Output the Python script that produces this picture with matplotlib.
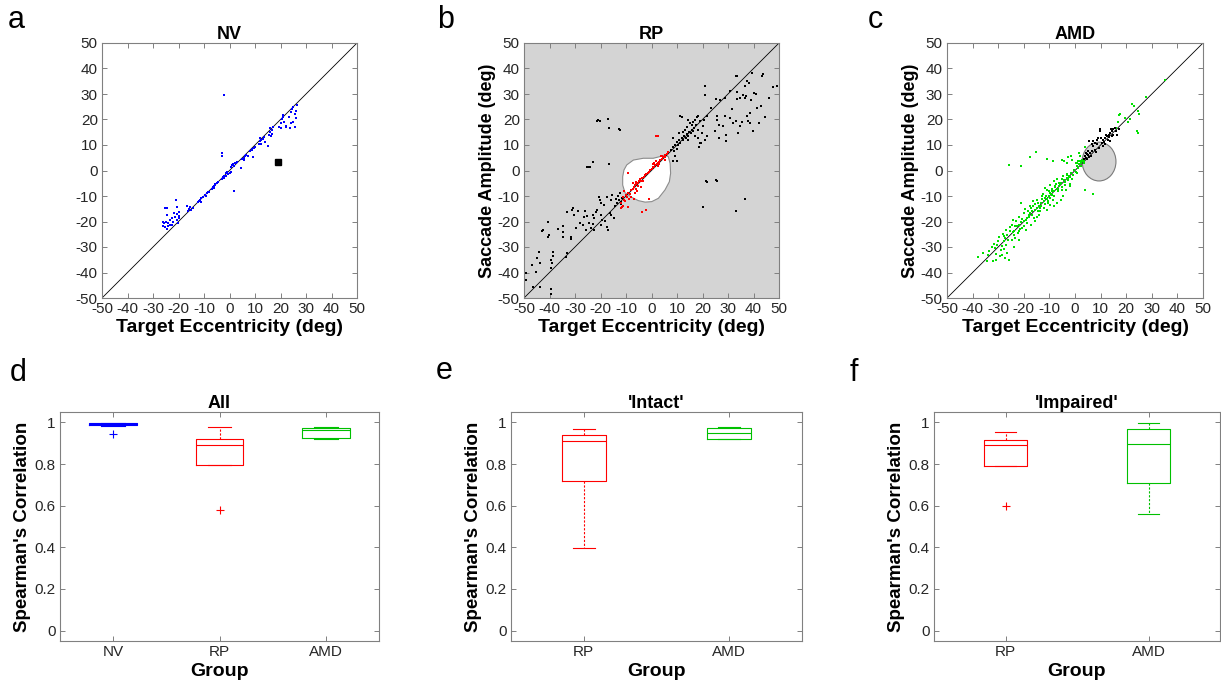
import numpy as np
import matplotlib.pyplot as plt
from matplotlib.patches import Ellipse

plt.rcParams['font.family'] = ['Liberation Sans', 'DejaVu Sans']
plt.rcParams['axes.unicode_minus'] = False

# ---- scatter data (target eccentricity, saccade amplitude), deg ----
nv_pts = [
    (-25.3, -14.8), (-24.7, -14.8), (-21.0, -11.6), (-20.4, -14.4), (-19.7, -16.1), (-24.7, -17.4),
    (-24.9, -20.1), (-26.0, -21.8), (-25.3, -22.0), (-24.0, -20.5), (-23.4, -19.4), (-22.7, -18.8),
    (-22.0, -20.1), (-21.4, -18.1), (-20.7, -19.4), (-20.1, -20.7), (-21.8, -16.8), (-22.4, -21.4),
    (-25.7, -20.7), (-24.4, -23.1), (-19.7, -17.8), (-23.4, -21.4), (-25.9, -20.3), (-24.2, -21.9),
    (-20.4, -17.2), (-19.9, -18.8),
    (-16.8, -14.0), (-15.8, -15.0), (-15.2, -15.5), (-14.5, -14.6), (-16.2, -15.8), (-15.5, -14.2),
    (-12.2, -12.5), (-11.5, -11.5), (-11.0, -10.8), (-10.5, -10.5), (-12.0, -11.8), (-11.2, -12.2),
    (-9.5, -9.8), (-9.0, -9.0), (-8.5, -8.5), (-8.0, -8.3), (-9.2, -10.0),
    (-7.0, -7.2), (-6.5, -6.5), (-6.0, -6.0), (-5.5, -5.2), (-5.0, -5.0), (-4.5, -4.5), (-6.2, -7.0),
    (-5.8, -5.5),
    (-3.0, -3.5), (-2.5, -2.5), (-2.0, -2.0), (-1.5, -1.0), (-1.0, -0.5), (-0.5, -1.5), (0.0, -0.8),
    (-2.2, -3.0), (-1.2, -2.0), (0.5, -0.5),
    (-3.1, 7.0), (-3.1, 5.7), (1.7, -7.9), (-2.2, 29.7),
    (0.5, 1.5), (1.0, 2.0), (1.5, 2.5), (2.0, 2.8), (2.5, 3.0), (3.0, 3.5), (1.8, 1.8), (4.7, 0.9),
    (4.8, 4.5), (5.5, 5.0), (6.0, 5.5), (6.5, 6.0), (7.2, 5.8), (5.8, 4.2), (9.3, 5.4),
    (8.2, 7.8), (8.8, 8.5), (9.5, 9.0), (10.0, 9.2), (9.0, 8.0),
    (11.5, 10.5), (12.0, 11.5), (12.5, 12.0), (13.0, 12.5), (13.5, 13.0), (12.2, 10.2), (13.8, 11.0),
    (11.8, 12.8), (15.2, 9.6),
    (15.5, 14.0), (16.0, 15.0), (16.5, 16.0), (17.0, 17.0), (16.2, 13.5), (15.8, 16.5), (16.8, 14.5),
    (19.5, 17.0), (20.0, 18.5), (20.5, 20.0), (21.0, 21.0), (21.5, 19.0), (22.0, 17.5), (20.0, 16.5),
    (21.0, 21.8), (22.3, 17.0),
    (23.5, 21.0), (24.0, 23.0), (24.5, 24.0), (25.0, 25.0), (25.5, 22.0), (26.0, 20.5), (25.0, 19.0),
    (24.2, 18.5), (26.0, 23.5), (25.5, 17.0), (23.8, 16.5), (26.3, 25.5),
]
nv_square = (19.2, 3.3)

rp_black = [
    # lower left
    (-25.4, 1.2), (-24.9, 1.2), (-24.2, 1.5), (-23.1, 3.5), (-16.7, 2.5),
    (-21.4, 19.6), (-20.8, 19.7), (-20.3, 19.6), (-17.0, 20.3), (-16.5, 16.5), (-12.8, 16.3), (-12.3, 15.8),
    (-40.6, -20.2), (-42.4, -23.3), (-43.1, -23.7), (-40.2, -25.3), (-40.6, -26.0), (-34.7, -21.8),
    (-34.7, -24.0), (-33.0, -16.4), (-30.7, -14.8), (-31.0, -15.5), (-30.4, -17.5), (-26.0, -15.8),
    (-26.5, -18.1), (-25.2, -17.8), (-24.5, -20.5), (-25.8, -23.3), (-23.9, -22.7), (-22.5, -23.3),
    (-22.5, -18.8), (-21.9, -16.1), (-21.2, -15.5), (-20.6, -10.3), (-20.2, -11.6), (-19.7, -12.9),
    (-19.9, -17.5), (-19.3, -19.4), (-19.7, -21.4), (-17.3, -22.0), (-17.1, -23.3), (-17.3, -10.3),
    (-16.0, -11.6), (-15.4, -9.6), (-16.3, -16.5), (-15.8, -17.5), (-14.7, -18.8), (-13.4, -12.9),
    (-12.7, -11.6), (-12.1, -12.2), (-11.4, -10.9), (-13.2, -10.1), (-12.5, -8.8), (-14.5, -14.0),
    (-11.9, -13.3), (-18.4, -19.9), (-23.0, -17.3), (-28.9, -16.0),
    (-46.7, -37.0), (-44.8, -34.4), (-44.1, -31.8), (-43.7, -36.4), (-45.4, -39.7), (-39.5, -35.1),
    (-39.2, -36.4), (-38.5, -31.8), (-38.5, -33.5), (-39.3, -38.4), (-33.7, -33.8), (-33.0, -32.5),
    (-31.7, -26.0), (-31.4, -27.0), (-34.6, -26.2), (-49.3, -40.0), (-49.3, -43.0), (-43.7, -45.6),
    (-39.3, -46.6), (-39.5, -48.4), (-46.3, -45.6), (-36.5, -23.0), (-28.0, -20.5), (-27.0, -21.5),
    (-18.6, -13.7), (-14.1, -11.2), (-22.9, -21.0), (-29.5, -22.6),
    # upper right
    (33.1, 37.2), (33.7, 36.9), (39.3, 38.2), (43.9, 38.0), (43.2, 36.9), (38.2, 34.3), (37.3, 35.0),
    (47.5, 32.7), (49.1, 33.3), (45.9, 28.4), (30.8, 31.3), (26.9, 27.5), (25.3, 28.0), (28.8, 28.4),
    (33.4, 30.7), (33.4, 28.0), (34.7, 28.4), (36.0, 29.7), (37.1, 29.3), (36.7, 28.4), (40.2, 30.4),
    (41.0, 30.1), (41.2, 24.5), (42.8, 25.4), (38.6, 22.5), (37.6, 21.5), (38.0, 19.3), (38.6, 18.6),
    (39.7, 15.4), (34.1, 14.7), (34.7, 17.6), (35.4, 18.9), (32.1, 18.6), (33.1, 19.3), (30.8, 20.6),
    (27.9, 17.6), (29.2, 14.1), (29.2, 11.4), (26.6, 12.7), (24.9, 15.4), (25.8, 19.7), (26.6, 18.0),
    (28.8, 21.5), (25.8, 21.5), (21.6, 21.2), (20.6, 19.7), (20.1, 17.3), (19.0, 19.3), (21.0, 33.0),
    (21.0, 29.7), (21.9, 13.4), (21.0, 12.1), (19.3, 10.8), (18.8, 9.2), (21.9, -4.6), (21.4, -4.3),
    (25.3, -3.9), (25.8, -4.2), (20.2, -14.3), (33.3, -16.0), (36.5, -11.2),
    (31.5, 24.2), (39.0, 27.5), (44.6, 20.8), (36.5, 33.0), (23.4, 24.5), (42.3, 18.7),
    # along the diagonal
    (11.2, 21.5), (11.8, 21.0), (14.4, 19.7), (15.1, 18.6), (15.8, 18.0), (16.4, 18.9), (17.1, 19.9),
    (17.7, 21.0), (18.4, 21.5), (17.5, 18.0), (16.7, 16.7), (15.8, 15.8), (14.8, 15.0), (13.8, 14.4),
    (12.7, 13.4), (11.8, 12.7), (10.9, 11.8), (9.9, 11.0), (9.2, 10.1), (8.3, 9.2), (7.5, 8.2),
    (10.5, 10.1), (11.2, 10.8), (12.5, 11.8), (13.5, 12.7), (14.4, 13.7), (15.4, 14.7), (16.1, 15.4),
    (13.1, 16.0), (12.2, 15.0), (14.1, 17.1), (9.9, 8.4), (8.8, 7.5), (9.2, 5.6), (10.1, 3.6), (8.6, 3.6),
    (19.0, 10.8), (18.4, 12.7), (19.7, 14.7), (10.9, 14.7), (8.3, 12.7), (18.4, 15.8), (14.4, 12.1),
    (17.1, 13.7),
]
rp_red = [
    (-11.2, -10.5), (-10.6, -11.4), (-10.1, -9.6), (-9.6, -10.2), (-9.2, -8.7), (-10.3, -12.1),
    (-11.0, -13.8), (-8.9, -11.2), (-8.4, -9.1), (-7.9, -7.8), (-7.4, -7.3), (-6.9, -6.6), (-6.6, -5.8),
    (-6.1, -5.4), (-5.4, -4.9), (-4.9, -4.3), (-6.0, -7.1), (-5.1, -6.2), (-4.6, -3.4), (-4.1, -4.0),
    (-3.6, -2.9), (-3.1, -2.6), (-2.4, -1.9), (-2.0, -1.3), (-1.4, -1.1), (-0.9, -0.4), (-0.4, 0.2),
    (0.1, 0.6), (0.6, 1.2), (1.1, 1.4), (1.4, 2.1), (2.1, 2.4), (2.6, 3.1), (3.1, 3.3), (3.4, 4.1),
    (4.1, 4.4), (4.6, 5.2), (5.1, 5.4), (5.4, 6.1), (5.9, 6.6), (6.4, 7.2), (1.9, 3.6), (2.9, 2.4),
    (4.2, 5.6), (1.0, 2.9), (-7.1, -4.8), (-4.2, -6.3), (-3.2, -4.1), (-6.2, -4.4), (-8.1, -10.3),
    (-12.1, -12.6), (-5.6, -8.2), (-9.4, -14.2), (-6.4, -8.7), (0.4, 2.4), (2.4, 1.6), (5.2, 4.1),
    (3.6, 5.7), (1.9, 13.7), (2.7, 13.4), (-9.2, -1.1), (-3.6, -16.1), (-2.3, -15.5), (-1.0, -11.2),
    (-7.0, -11.2), (-12.1, -14.8), (-11.4, -14.2), (-10.8, -8.2),
]
# 'intact' region outline for RP
rp_blob_x = [-9.7, -7.1, -3.2, 0.7, 3.5, 5.3, 6.6, 7.3, 7.5, 7.0, 5.3, 2.7, 0.1, -2.5, -5.2, -7.8,
             -10.4, -11.3, -11.3, -10.8]
rp_blob_y = [2.2, 4.1, 4.8, 4.8, 5.5, 6.1, 5.4, 2.8, -1.1, -4.4, -7.6, -10.9, -12.2, -12.4, -11.8,
             -10.5, -8.7, -5.7, -2.4, 0.2]

amd_green = [
    (-37.9, -34.0), (-34.3, -35.6), (-33.4, -31.7), (-32.1, -35.6), (-30.7, -32.7), (-29.1, -31.0),
    (-28.5, -33.0), (-27.2, -34.3), (-25.9, -35.0), (-26.5, -32.3), (-31.7, -28.7), (-28.7, -29.7),
    (-27.8, -27.8), (-27.2, -26.5), (-26.5, -25.2), (-25.2, -23.8), (-25.5, -22.2), (-24.6, -27.1),
    (-23.3, -26.5), (-23.9, -25.2), (-22.6, -21.9), (-22.0, -21.2), (-21.0, -20.3), (-20.0, -21.6),
    (-19.3, -19.3), (-18.7, -18.6), (-18.0, -17.3), (-17.4, -16.7), (-16.7, -16.0), (-15.8, -15.4),
    (-15.0, -14.7), (-14.1, -13.8), (-13.2, -12.8), (-12.2, -12.1), (-11.1, -11.2), (-10.2, -10.1),
    (-9.3, -9.1), (-8.3, -8.2), (-7.2, -7.3), (-6.3, -6.2), (-5.6, -4.9), (-4.3, -3.9), (-3.3, -3.0),
    (-2.4, -2.1), (-1.5, -1.0), (-0.4, 0.3), (0.6, 1.6), (1.5, 2.6), (2.8, 3.6), (-20.6, -22.5),
    (-22.0, -23.8), (-24.2, -19.3), (-21.0, -12.8), (-20.0, -16.7), (-17.6, -13.8), (-16.3, -12.1),
    (-14.8, -11.5), (-12.8, -10.1), (-10.9, -7.5), (-9.6, -5.6), (-8.3, -4.3), (-7.2, -3.4),
    (-5.4, -11.5), (-4.6, -10.1), (-3.7, -7.5), (-16.1, -18.6), (-15.8, -19.9), (-14.1, -17.3),
    (-13.5, -16.0), (-12.2, -14.7), (-10.9, -15.4), (-9.6, -13.4), (-8.5, -11.5), (-8.3, -14.1),
    (-7.0, -12.8), (-11.5, -9.9), (-10.2, -8.2), (-26.8, -23.2), (-23.5, -21.6), (-27.6, -30.8),
    (-29.4, -33.6),
    (-29.9, -27.6), (-28.2, -24.9), (-24.1, -24.3), (-22.9, -19.8), (-21.7, -18.4), (-19.6, -15.1),
    (-18.8, -20.4), (-17.1, -14.9), (-16.4, -14.1), (-14.6, -12.6), (-13.7, -14.8), (-12.9, -11.2),
    (-11.8, -13.1), (-10.4, -11.9), (-9.8, -8.8), (-8.8, -9.7), (-7.8, -6.4), (-6.8, -8.1), (-5.9, -5.3),
    (-4.9, -6.6), (-3.9, -4.4), (-2.9, -3.6), (-1.9, -2.6), (-0.9, -1.8), (0.3, -0.4), (1.2, 0.9),
    (2.3, 1.8), (3.4, 2.9), (-32.6, -30.1), (-30.3, -29.4), (-33.9, -33.2), (-35.8, -32.4),
    (-31.2, -30.5), (-29.6, -26.2), (-27.9, -25.6), (-26.1, -27.3), (-24.8, -21.4), (-23.7, -23.9),
    (-22.2, -24.6), (-21.4, -22.9), (-20.8, -18.9), (-19.9, -19.8), (-18.5, -15.9), (-17.9, -18.1),
    (-16.9, -17.6), (-15.5, -13.2), (-14.4, -15.7), (-13.1, -13.9), (-12.6, -9.4), (-11.9, -10.6),
    (-10.7, -12.8), (-9.9, -10.9), (-9.1, -7.9), (-8.1, -9.9), (-7.5, -5.4), (-6.6, -7.1), (-5.2, -7.8),
    (-4.0, -5.8), (-3.1, -1.9), (-1.2, -3.2), (0.9, -1.1), (-17.0, -21.2), (-19.0, -23.5),
    (-14.9, -18.2), (-21.9, -27.2), (-26.9, -29.4), (-24.0, -30.0), (-30.8, -35.0),
    (-25.9, 2.2), (-21.0, 1.9), (-17.6, 5.2), (-15.4, 7.1), (-11.1, 4.5), (-8.5, 3.6), (-5.0, 4.2),
    (-4.2, 3.6), (-3.0, 2.9), (-1.7, 5.8), (-2.6, 5.3), (-1.1, 4.2), (0.2, 2.9), (1.0, 3.6), (2.2, 2.9),
    (3.8, -7.5), (7.1, -9.1), (1.4, 6.9), (2.1, 5.6), (2.7, 4.3), (3.4, 3.7), (1.8, 3.7), (0.8, 3.0),
    (4.0, 9.3), (-2.0, -6.1), (-2.6, -2.9),
    (35.0, 35.4), (27.9, 28.9), (22.3, 25.9), (22.9, 25.2), (24.5, 23.3), (24.9, 22.0), (17.7, 22.3),
    (17.1, 21.6), (19.7, 20.6), (21.6, 20.0), (20.6, 19.0), (16.7, 19.0), (16.1, 16.7), (24.2, 15.4),
    (24.5, 14.8),
    (-4.5, -2.2), (-3.2, -1.5), (-5.1, -3.5), (-6.4, -4.8), (-7.7, -6.1), (-9.0, -7.4), (-11.6, -6.8),
    (-2.1, -5.4),
]
amd_black = [
    (9.8, 16.1), (9.6, 15.3), (8.7, 12.1), (7.2, 11.7), (5.6, 11.5), (6.5, 10.2), (7.2, 9.5),
    (8.5, 10.2), (7.8, 8.2), (9.3, 8.9), (10.4, 10.8), (11.1, 12.1), (11.7, 12.8), (12.4, 13.4),
    (13.1, 14.1), (13.7, 14.8), (14.4, 15.4), (15.0, 16.1), (15.7, 16.7), (12.7, 12.1), (13.4, 13.2),
    (12.1, 14.1), (14.4, 13.4), (11.5, 11.1), (10.1, 12.8), (10.8, 9.5), (4.2, 6.9), (4.6, 6.3),
    (3.9, 5.6), (5.2, 5.9), (5.9, 6.9), (4.3, 5.0), (5.0, 7.6), (6.5, 7.6), (3.5, 4.6), (15.0, 14.1),
    (16.1, 15.4), (14.0, 16.1), (7.8, 10.8), (9.1, 12.8), (4.8, 4.4), (5.5, 5.2), (6.1, 5.8),
    (8.1, 7.3), (11.9, 10.2), (13.6, 11.6), (16.6, 13.9), (17.2, 16.4),
]
# scotoma ellipse for AMD (centre, width, height)
amd_scotoma = ((9.4, 3.5), 13.2, 15.2)

# ---- box plot data: Spearman's correlation ----
d_groups = ['NV', 'RP', 'AMD']
d_whislo = [0.984, 0.797, 0.919]
d_q1 = [0.987, 0.797, 0.925]
d_med = [0.992, 0.893, 0.963]
d_q3 = [0.995, 0.922, 0.973]
d_whishi = [0.998, 0.976, 0.976]
d_fliers = [[0.946], [0.580], []]

e_groups = ['RP', 'AMD']
e_whislo = [0.399, 0.919]
e_q1 = [0.718, 0.922]
e_med = [0.912, 0.947]
e_q3 = [0.941, 0.973]
e_whishi = [0.970, 0.977]
e_fliers = [[], []]

f_groups = ['RP', 'AMD']
f_whislo = [0.793, 0.561]
f_q1 = [0.793, 0.707]
f_med = [0.893, 0.896]
f_q3 = [0.915, 0.968]
f_whishi = [0.955, 0.999]
f_fliers = [[0.598], []]

group_colors = {'NV': '#0000ff', 'RP': '#ff0000', 'AMD': '#00c000'}

EDGE = '#808080'
TXT = '#262626'
W, H = 1221, 687
fig = plt.figure(figsize=(W / 100, H / 100), dpi=100)


def add_axes(x0, y0, x1, y1):
    return fig.add_axes([x0 / W, 1 - y1 / H, (x1 - x0) / W, (y1 - y0) / H])


def style(ax):
    for s in ax.spines.values():
        s.set_color(EDGE)
        s.set_linewidth(0.8)
    ax.tick_params(direction='in', top=True, right=True, length=3.5, width=0.7,
                   color=EDGE, labelcolor=TXT, labelsize=11, pad=3)


def scatter_panel(ax, title, ylabel):
    ax.set_xlim(-50, 50)
    ax.set_ylim(-50, 50)
    ticks = np.arange(-50, 51, 10)
    ax.set_xticks(ticks)
    ax.set_yticks(ticks)
    ax.axline((0, 0), slope=1, color='black', lw=0.6, zorder=2)
    ax.set_title(title, fontsize=13, fontweight='bold', pad=3)
    ax.set_xlabel('Target Eccentricity (deg)', fontsize=14, fontweight='bold', labelpad=2)
    if ylabel:
        ax.set_ylabel('Saccade Amplitude (deg)', fontsize=13, fontweight='bold', labelpad=1)
    style(ax)


def dots(ax, pts, color):
    p = np.array(pts)
    ax.plot(p[:, 0], p[:, 1], 's', ms=2.1, mew=0, color=color, zorder=3)


# a: NV
ax_a = add_axes(102, 43, 357, 298)
scatter_panel(ax_a, 'NV', False)
dots(ax_a, nv_pts, '#0000ff')
ax_a.plot([nv_square[0]], [nv_square[1]], 's', ms=4, color='black', zorder=3)

# b: RP
ax_b = add_axes(524, 43, 779, 298)
scatter_panel(ax_b, 'RP', True)
ax_b.set_facecolor('#d4d4d4')
ax_b.fill(rp_blob_x, rp_blob_y, facecolor='white', edgecolor='#8c8c8c', lw=0.8, zorder=1)
dots(ax_b, rp_black, 'black')
dots(ax_b, rp_red, '#ff0000')

# c: AMD
ax_c = add_axes(947, 43, 1203, 298)
scatter_panel(ax_c, 'AMD', True)
centre, ew, eh = amd_scotoma
ax_c.add_patch(Ellipse(centre, ew, eh, facecolor='#d4d4d4', edgecolor='#7a7a7a', lw=0.8, zorder=1))
dots(ax_c, amd_green, '#00e000')
dots(ax_c, amd_black, 'black')


def box_panel(ax, title, groups, whislo, q1, med, q3, whishi, fliers, width):
    for i, g in enumerate(groups):
        c = group_colors[g]
        st = [dict(whislo=whislo[i], q1=q1[i], med=med[i], q3=q3[i], whishi=whishi[i], fliers=fliers[i])]
        ax.bxp(st, positions=[i + 1], widths=width, capwidths=width * 0.5, manage_ticks=False,
               boxprops=dict(color=c, lw=0.8), medianprops=dict(color=c, lw=0.8),
               whiskerprops=dict(color=c, lw=0.8, ls=(0, (2, 1.5))), capprops=dict(color=c, lw=0.8),
               flierprops=dict(marker='+', markeredgecolor=c, ms=6, mew=0.8))
    ax.set_xlim(0.5, len(groups) + 0.5)
    ax.set_ylim(-0.05, 1.05)
    ax.set_xticks(range(1, len(groups) + 1))
    ax.set_xticklabels(groups)
    ax.set_yticks([0, 0.2, 0.4, 0.6, 0.8, 1])
    ax.set_yticklabels(['0', '0.2', '0.4', '0.6', '0.8', '1'])
    ax.set_title(title, fontsize=13, fontweight='bold', pad=3)
    ax.set_xlabel('Group', fontsize=14, fontweight='bold', labelpad=3)
    ax.set_ylabel("Spearman's Correlation", fontsize=13.5, fontweight='bold', labelpad=3)
    style(ax)


ax_d = add_axes(60, 412, 379, 641)
box_panel(ax_d, 'All', d_groups, d_whislo, d_q1, d_med, d_q3, d_whishi, d_fliers, 0.45)
ax_e = add_axes(511, 412, 802, 641)
box_panel(ax_e, "'Intact'", e_groups, e_whislo, e_q1, e_med, e_q3, e_whishi, e_fliers, 0.3)
ax_f = add_axes(934, 412, 1220, 641)
box_panel(ax_f, "'Impaired'", f_groups, f_whislo, f_q1, f_med, f_q3, f_whishi, f_fliers, 0.3)

# panel letters
for letter, x, y in [('a', 8, 28), ('b', 437, 28), ('c', 868, 28),
                     ('d', 10, 381), ('e', 436, 379), ('f', 850, 381)]:
    fig.text(x / W, 1 - y / H, letter, fontsize=22, va='baseline', ha='left', color='black')

fig.savefig('out.png', dpi=100)
